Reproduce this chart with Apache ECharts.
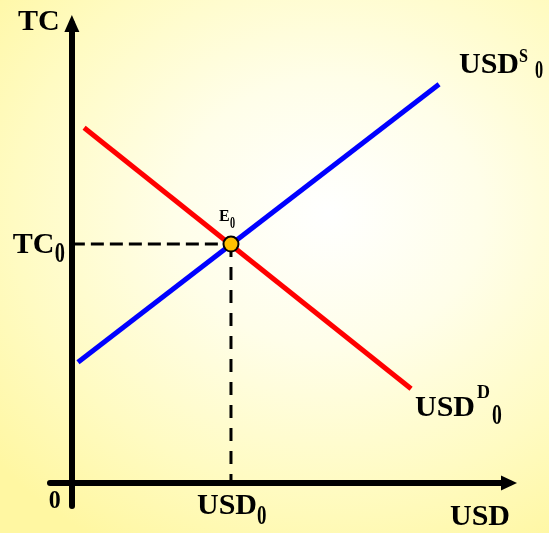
<!DOCTYPE html>
<html>
<head>
<meta charset="utf-8">
<style>
html,body{margin:0;padding:0;}
#c{width:549px;height:533px;background:radial-gradient(ellipse 80% 72% at 60% 40%, #ffffff 0%, #fffee9 35%, #fffbc2 72%, #fff7a2 100%);}
</style>
<script src="https://cdn.jsdelivr.net/npm/echarts@6/dist/echarts.min.js"></script>
</head>
<body>
<div id="c"></div>
<script>
// Data (arbitrary units of a conceptual supply/demand diagram)
const demandLine = [[2.8, 77.3], [77.6, 20.5]];   // USD^D_0
const supplyLine = [[1.4, 26.3], [84.0, 86.8]];   // USD^S_0
const equilibrium = [36.4, 52.0];                 // E_0
const xRange = [-5, 100];
const yRange = [-5, 100];

const FONT = '"Liberation Serif", "Times New Roman", serif';
const chart = echarts.init(document.getElementById('c'), null, {renderer: 'canvas'});

const option = {
  animation: false,
  backgroundColor: 'transparent',
  grid: {left: 50, right: 40, top: 23.5, bottom: 27, containLabel: false},
  xAxis: {
    type: 'value', min: xRange[0], max: xRange[1],
    axisLine: {onZero: true, lineStyle: {color: '#000', width: 6},
      symbol: ['none', 'triangle'], symbolSize: [15, 16]},
    axisTick: {show: false}, axisLabel: {show: false}, splitLine: {show: false}
  },
  yAxis: {
    type: 'value', min: yRange[0], max: yRange[1],
    axisLine: {onZero: true, lineStyle: {color: '#000', width: 6},
      symbol: ['none', 'triangle'], symbolSize: [15, 17]},
    axisTick: {show: false}, axisLabel: {show: false}, splitLine: {show: false}
  },
  series: [
    {type: 'line', data: [[0, equilibrium[1]], equilibrium], symbol: 'none', z: 3,
      lineStyle: {color: '#000', width: 3, type: [13, 6]}},
    {type: 'line', data: [equilibrium, [equilibrium[0], 0]], symbol: 'none', z: 3,
      lineStyle: {color: '#000', width: 3, type: [13, 10]}},
    {type: 'line', data: demandLine, symbol: 'none', z: 4,
      lineStyle: {color: '#ff0000', width: 5, cap: 'butt'}},
    {type: 'line', data: supplyLine, symbol: 'none', z: 4,
      lineStyle: {color: '#0000ff', width: 5, cap: 'butt'}},
    {type: 'scatter', data: [equilibrium], symbol: 'circle', symbolSize: 15, z: 5,
      itemStyle: {color: '#ffc000', borderColor: '#000', borderWidth: 2, opacity: 1}}
  ]
};
chart.setOption(option);

function txt(x, y, text, size, sx) {
  return {type: 'text', x: x, y: y, z: 100, silent: true, scaleX: sx || 1,
    style: {text: text, fill: '#000', font: 'bold ' + size + 'px ' + FONT,
      align: 'left', verticalAlign: 'middle'}};
}

const eP = chart.convertToPixel({gridIndex: 0}, equilibrium);
const tcP = chart.convertToPixel({gridIndex: 0}, [0, equilibrium[1]]);
const usdP = chart.convertToPixel({gridIndex: 0}, [equilibrium[0], 0]);
const origin = chart.convertToPixel({gridIndex: 0}, [0, 0]);

const elems = [
  txt(18, 22, 'TC', 30),
  txt(tcP[0] - 59, tcP[1] + 1, 'TC', 30),
  txt(tcP[0] - 17, tcP[1] + 10, '0', 30, 0.68),
  txt(eP[0] - 12, eP[1] - 27, 'E', 16),
  txt(eP[0] - 1, eP[1] - 20, '0', 17, 0.6),
  txt(origin[0] - 23, origin[1] + 18, '0', 26, 0.92),
  txt(usdP[0] - 34, usdP[1] + 23, 'USD', 30),
  txt(usdP[0] + 26, usdP[1] + 34, '0', 27, 0.7),
  txt(450, 517, 'USD', 30),
  txt(459, 65, 'USD', 30),
  txt(519, 57, 'S', 19, 0.85),
  txt(535, 72, '0', 25, 0.65),
  txt(415, 408, 'USD', 30),
  txt(477, 393, 'D', 18),
  txt(492, 417, '0', 29, 0.68)
];
chart.setOption({graphic: {elements: elems}});
</script>
</body>
</html>
